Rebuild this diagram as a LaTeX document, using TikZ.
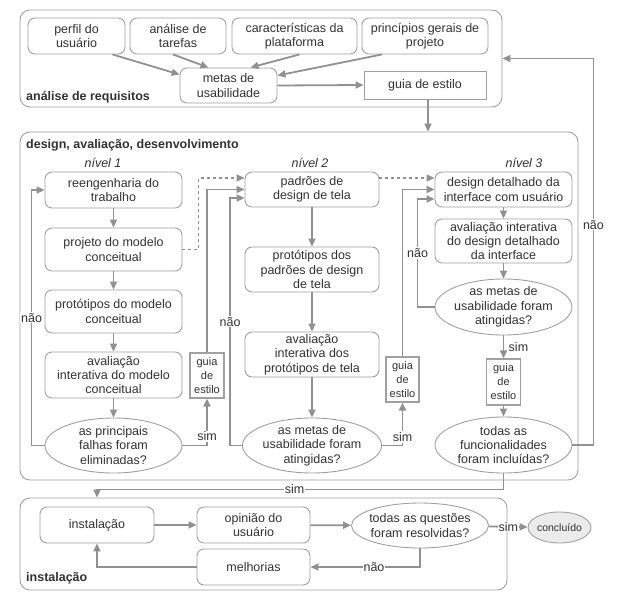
\documentclass[tikz,border=0pt]{standalone}
\usepackage{fontspec}
\setmainfont{Liberation Sans}
\usepackage{tikz}
\usetikzlibrary{arrows.meta,shapes.geometric,positioning}
\definecolor{line-gray}{RGB}{145,145,145}
\definecolor{box-gray}{RGB}{160,160,160}
\definecolor{text-gray}{RGB}{50,50,50}
\definecolor{fill-gray}{RGB}{235,235,235}
\tikzset{>={Triangle[length=8pt,width=7pt]}}
\tikzset{
  section/.style={draw=box-gray, line width=0.9pt, rounded corners=10pt, inner sep=0pt},
  task/.style={draw=box-gray, line width=0.9pt, rounded corners=7pt, align=center, inner sep=0pt},
  query/.style={draw=box-gray, line width=0.9pt, ellipse, align=center, inner sep=-10pt},
  styleguide/.style={draw=box-gray, line width=1.2pt, align=center, inner sep=0pt, font=\fontsize{11}{14}\selectfont},
  flow/.style={->, draw=line-gray, line width=1.8pt},
  choice/.style={fill=white, inner sep=1pt},
  level/.style={font=\fontsize{12.5}{14}\selectfont\itshape},
  title/.style={font=\fontsize{12.5}{14}\selectfont\bfseries, anchor=west, inner sep=0pt}
}

\begin{document}
\begin{tikzpicture}[x=1pt, y=-1pt, font=\fontsize{12.5}{14.3}\selectfont, text=text-gray]
    \useasboundingbox (0,0) rectangle (635,610);

    % sections
    \node[section, minimum width=482pt, minimum height=97pt] (req) at (261,58.5) {};
    \node[section, minimum width=558pt, minimum height=348pt] (des) at (299,306) {};
    \node[section, minimum width=487pt, minimum height=92pt] (ins) at (263.5,544) {};
    \node[title] (req-title) at (26,97) {análise de requisitos};
    \node[title] (des-title) at (26,145) {design, avaliação, desenvolvimento};
    \node[title] (ins-title) at (26,578) {instalação};

    % requirements
    \node[task, minimum width=97pt, minimum height=36pt] (perfil) at (76.5,36) {perfil do\\usuário};
    \node[task, minimum width=96pt, minimum height=36pt] (tarefas) at (178,36) {análise de\\tarefas};
    \node[task, minimum width=125pt, minimum height=36pt] (caract) at (294.5,36) {características da\\plataforma};
    \node[task, minimum width=126pt, minimum height=36pt] (princ) at (425,36) {princípios gerais de\\projeto};
    \node[task, minimum width=97pt, minimum height=35pt] (metas) at (228.5,85.5) {metas de\\usabilidade};
    \node[styleguide, line width=0.9pt, font=\fontsize{12.5}{14}\selectfont, minimum width=122pt, minimum height=28pt] (guia0) at (425,85) {guia de estilo};

    \draw[flow] ([xshift=36pt]perfil.south) -- ([yshift=11pt]metas.west);
    \draw[flow] ([xshift=-5pt]tarefas.south) -- ([xshift=-20pt]metas.north);
    \draw[flow] ([xshift=5pt]caract.south) -- ([xshift=22pt]metas.north);
    \draw[flow] ([xshift=-43pt]princ.south) -- ([yshift=10pt]metas.east);
    \draw[flow] (metas.east) -- (guia0.west);
    \draw[flow] ([xshift=3pt]guia0.south) -- ([xshift=3pt]guia0.south |- des.north);

    % level 1
    \node[level] (level1) at (103,163) {nível 1};
    \node[task, minimum width=137pt, minimum height=36pt] (reeng) at (113.5,190) {reengenharia do\\trabalho};
    \node[task, minimum width=137pt, minimum height=43pt] (projeto) at (113.5,249.5) {projeto do modelo\\conceitual};
    \node[task, minimum width=137pt, minimum height=43pt] (prot1) at (113.5,311.5) {protótipos do modelo\\conceitual};
    \node[task, minimum width=137pt, minimum height=46pt] (aval1) at (113.5,375) {avaliação\\interativa do modelo\\conceitual};
    \node[query, minimum width=137pt, minimum height=55pt] (elli1) at (113.5,445.5) {as principais\\falhas foram\\eliminadas?};
    \node[styleguide, minimum width=34pt, minimum height=45pt] (guia1) at (207,375.5) {guia\\de\\estilo};

    \draw[flow] (reeng) -- (projeto);
    \draw[flow] (projeto) -- (prot1);
    \draw[flow] (prot1) -- (aval1);
    \draw[flow] (aval1) -- (elli1);
    \draw[flow] (elli1.west) -- ++(-13,0) |- (reeng.west) node[choice, pos=0.25] {não};
    \draw[flow] (elli1.east) -| (guia1.south) node[choice, pos=0.6] {sim};

    % level 2
    \node[level] (level2) at (310,163) {nível 2};
    \node[task, minimum width=134pt, minimum height=35pt] (padr) at (312,189.5) {padrões de\\design de tela};
    \node[task, minimum width=134pt, minimum height=45pt] (prot2) at (312,269.5) {protótipos dos\\padrões de design\\de tela};
    \node[task, minimum width=134pt, minimum height=45pt] (aval2) at (312,354.5) {avaliação\\interativa dos\\protótipos de tela};
    \node[query, minimum width=139pt, minimum height=55pt] (elli2) at (312,445.5) {as metas de\\usabilidade foram\\atingidas?};
    \node[styleguide, minimum width=33pt, minimum height=45pt] (guia2) at (402.5,379.5) {guia\\de\\estilo};

    \draw[flow, dashed, line width=1.2pt] (projeto.east) -- ++(16,0) |- ([yshift=11.5pt]padr.west);
    \draw[flow] (guia1.north) |- (padr.west);
    \draw[flow] (padr) -- (prot2);
    \draw[flow] (prot2) -- (aval2);
    \draw[flow] (aval2) -- (elli2);
    \draw[flow] (elli2.west) -- ++(-12,0) |- ([yshift=-8.5pt]padr.west) node[choice, pos=0.25] {não};
    \draw[flow] (elli2.east) -| (guia2.south) node[choice, pos=0.6] {sim};

    % level 3
    \node[level] (level3) at (524,163) {nível 3};
    \node[task, minimum width=137pt, minimum height=35pt] (det) at (503.5,189.5) {design detalhado da\\interface com usuário};
    \node[task, minimum width=137pt, minimum height=44pt] (aval3) at (503.5,241) {avaliação interativa\\do design detalhado\\da interface};
    \node[query, minimum width=137pt, minimum height=56pt] (elli3) at (503.5,307) {as metas de\\usabilidade foram\\atingidas?};
    \node[styleguide, minimum width=34pt, minimum height=46pt] (guia3) at (503.5,382) {guia\\de\\estilo};
    \node[query, minimum width=137pt, minimum height=56pt] (elli4) at (503.5,445) {todas as\\funcionalidades\\foram incluídas?};

    \draw[flow, dashed, line width=1.2pt] ([yshift=11.5pt]padr.east) -- ([yshift=11.5pt]det.west);
    \draw[flow] (guia2.north) |- (det.west);
    \draw[flow] (det) -- (aval3);
    \draw[flow] (aval3) -- (elli3);
    \draw[flow] (elli3.west) -- ++(-17,0) |- ([yshift=-9.5pt]det.west) node[choice, pos=0.25] {não};
    \draw[flow] (elli3) -- (guia3) node[midway, right=1pt] {sim};
    \draw[flow] (guia3) -- (elli4);
    \draw[flow] (elli4.east) -- ++(21,0) |- (req.east) node[choice, pos=0.285] {não};
    \draw[flow] (elli4.south) -- ++(0,16) -| (ins.north -| 97,0) node[choice, pos=0.257] {sim};

    % installation
    \node[task, minimum width=114pt, minimum height=36pt] (inst) at (97,525) {instalação};
    \node[task, minimum width=113pt, minimum height=36pt] (opin) at (253.5,525) {opinião do\\usuário};
    \node[task, minimum width=113pt, minimum height=36pt] (melh) at (253.5,567) {melhorias};
    \node[query, minimum width=137pt, minimum height=45pt] (elli5) at (420,525.5) {todas as questões\\foram resolvidas?};
    \node[query, fill=fill-gray, inner sep=-2pt, minimum width=63pt, minimum height=31pt, font=\fontsize{10.5}{12}\selectfont] (concl) at (559.5,527.5) {concluído};

    \draw[flow] (inst) -- (opin);
    \draw[flow] (opin) -- (elli5);
    \draw[flow] (elli5) -- (concl) node[choice, midway] {sim};
    \draw[flow] (elli5.south) |- (melh.east) node[choice, pos=0.71] {não};
    \draw[flow] (melh.west) -| (inst.south);
\end{tikzpicture}
\end{document}
